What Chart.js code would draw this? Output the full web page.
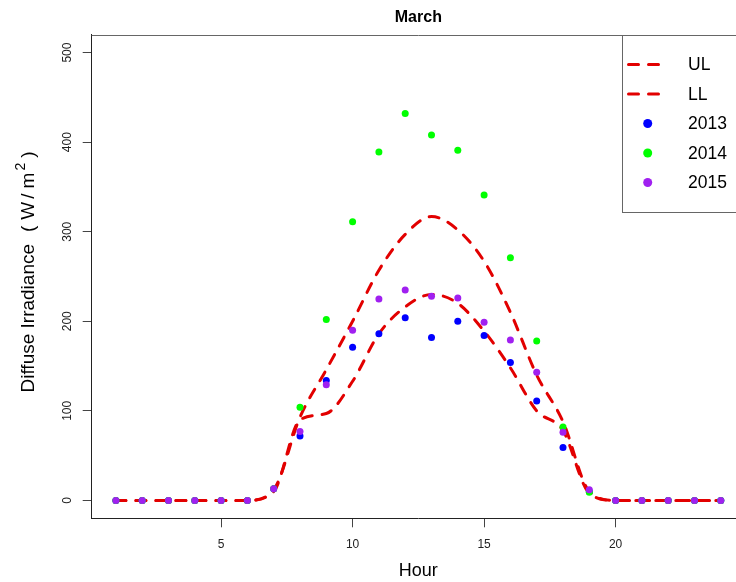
<!DOCTYPE html>
<html>
<head>
<meta charset="utf-8">
<title>March</title>
<script src="https://cdn.jsdelivr.net/npm/chart.js@4/dist/chart.umd.min.js"></script>
<style>
  html, body { margin: 0; padding: 0; background: #fff; overflow: hidden; }
  #wrap { width: 736px; height: 582px; overflow: hidden; }
</style>
</head>
<body>
<div id="wrap"><canvas id="marchChart" width="760" height="582"></canvas></div>
<script>
// hourly diffuse irradiance for March
const hours = [1, 2, 3, 4, 5, 6, 7, 8, 9, 10, 11, 12, 13, 14, 15, 16, 17, 18, 19, 20, 21, 22, 23, 24];
const upperLimit = [0, 0, 0, 0, 0, 0, 12, 93, 146, 200, 257, 297, 317, 302, 267, 210, 140, 88, 10, 0, 0, 0, 0, 0];
const lowerLimit = [0, 0, 0, 0, 0, 0, 10, 90, 97, 133, 186, 216, 230, 220, 189, 148, 100, 78, 8, 0, 0, 0, 0, 0];
const y2013 = [0, 0, 0, 0, 0, 0, 13, 72, 134, 171, 186, 204, 182, 200, 184, 154, 111, 59, 10, 0, 0, 0, 0, 0];
const y2014 = [0, 0, 0, 0, 0, 0, 13, 104, 202, 311, 389, 432, 408, 391, 341, 271, 178, 82, 9, 0, 0, 0, 0, 0];
const y2015 = [0, 0, 0, 0, 0, 0, 13, 77, 129, 190, 225, 235, 228, 226, 199, 179, 143, 76, 12, 0, 0, 0, 0, 0];
const xTicks = [5, 10, 15, 20];
const yTicks = [0, 100, 200, 300, 400, 500];

const RED = 'rgb(226,0,0)';
const FONT = '"Liberation Sans", Arial, sans-serif';

function pts(arr) {
  return hours.map((h, i) => ({ x: h, y: arr[i] }));
}

function limitLine(label, arr, order) {
  return {
    label: label,
    data: pts(arr),
    showLine: true,
    borderColor: RED,
    borderWidth: 3,
    borderDash: [10, 10],
    borderCapStyle: 'round',
    cubicInterpolationMode: 'monotone',
    pointRadius: 0,
    order: order
  };
}

function yearPoints(label, arr, color, order) {
  return {
    label: label,
    data: pts(arr),
    showLine: false,
    pointRadius: 3.5,
    pointBorderWidth: 0,
    pointBackgroundColor: color,
    borderColor: color,
    backgroundColor: color,
    order: order
  };
}

// y title with a raised exponent: Diffuse Irradiance (W/m^2)
function drawYTitle(ctx, cx, cy) {
  const big = '19px ' + FONT, small = '14px ' + FONT;
  const parts = [
    { t: 'Diffuse Irradiance', f: big, gap: 12, up: 0 },
    { t: '(', f: big, gap: 6, up: 0 },
    { t: 'W', f: big, gap: 3, up: 0 },
    { t: '/', f: big, gap: 5, up: 0 },
    { t: 'm', f: big, gap: 2, up: 0 },
    { t: '2', f: small, gap: 5, up: 9 },
    { t: ')', f: big, gap: 0, up: 0 }
  ];
  let total = 0;
  parts.forEach(p => { ctx.font = p.f; p.w = ctx.measureText(p.t).width; total += p.w + p.gap; });
  ctx.save();
  ctx.translate(cx, cy);
  ctx.rotate(-Math.PI / 2);
  ctx.fillStyle = '#000';
  ctx.textAlign = 'left';
  ctx.textBaseline = 'alphabetic';
  let x = -total / 2;
  parts.forEach(p => {
    ctx.font = p.f;
    ctx.fillText(p.t, x, 7 - p.up);
    x += p.w + p.gap;
  });
  ctx.restore();
}

// title, plot box, y title and the boxed legend
const decorations = {
  id: 'decorations',
  afterDraw(chart) {
    const ctx = chart.ctx;
    const a = chart.chartArea;
    ctx.save();

    ctx.strokeStyle = '#666';
    ctx.lineWidth = 1;
    ctx.beginPath();
    ctx.moveTo(a.left, Math.round(a.top) + 0.5);
    ctx.lineTo(a.right, Math.round(a.top) + 0.5);
    ctx.lineTo(a.right, a.bottom);
    ctx.stroke();

    ctx.fillStyle = '#000';
    ctx.font = 'bold 16px ' + FONT;
    ctx.textAlign = 'center';
    ctx.textBaseline = 'middle';
    ctx.fillText('March', (a.left + a.right) / 2, 18);

    drawYTitle(ctx, 27, 272);

    // legend
    const lx = 622.5, ly = Math.round(a.top) + 0.5, lw = 140, lh = 177;
    ctx.fillStyle = '#fff';
    ctx.fillRect(lx, ly, lw, lh);
    ctx.strokeStyle = '#666';
    ctx.lineWidth = 1;
    ctx.strokeRect(lx, ly, lw, lh);

    const entries = chart.data.datasets;
    ctx.font = '17.5px ' + FONT;
    ctx.textAlign = 'left';
    ctx.textBaseline = 'middle';
    entries.forEach((ds, i) => {
      const cy = 64.5 + i * 29.5;
      if (ds.showLine) {
        ctx.strokeStyle = ds.borderColor;
        ctx.lineWidth = ds.borderWidth;
        ctx.lineCap = 'round';
        ctx.setLineDash(ds.borderDash);
        ctx.beginPath();
        ctx.moveTo(628.5, cy);
        ctx.lineTo(658.5, cy);
        ctx.stroke();
        ctx.setLineDash([]);
      } else {
        ctx.fillStyle = ds.pointBackgroundColor;
        ctx.beginPath();
        ctx.arc(647.7, cy, 4.5, 0, Math.PI * 2);
        ctx.fill();
      }
      ctx.fillStyle = '#000';
      ctx.fillText(ds.label, 688, cy + 1);
    });
    ctx.restore();
  }
};

const CHART = document.getElementById('marchChart');
const marchChart = new Chart(CHART, {
  type: 'scatter',
  data: {
    datasets: [
      limitLine('UL', upperLimit, 4),
      limitLine('LL', lowerLimit, 3),
      yearPoints('2013', y2013, '#0000ff', 2),
      yearPoints('2014', y2014, '#00ff00', 1),
      yearPoints('2015', y2015, '#a020f0', 0)
    ]
  },
  options: {
    responsive: false,
    devicePixelRatio: 1,
    animation: false,
    layout: { padding: { left: 0, top: 34.7, right: 15, bottom: 0 } },
    plugins: {
      legend: { display: false },
      title: { display: false },
      tooltip: { enabled: false }
    },
    scales: {
      x: {
        type: 'linear',
        min: 0.08,
        max: 24.92,
        afterBuildTicks: s => { s.ticks = xTicks.map(v => ({ value: v })); },
        afterFit: s => { s.height = 63.7; },
        grid: { drawOnChartArea: false, drawTicks: true, tickLength: 9, color: '#444' },
        border: { color: '#222', width: 1 },
        ticks: { color: '#222', font: { family: FONT, size: 12 }, padding: 10, autoSkip: false, maxRotation: 0 },
        title: { display: true, text: 'Hour', color: '#000', font: { family: FONT, size: 18 }, padding: { top: 0, bottom: 0 } }
      },
      y: {
        type: 'linear',
        min: -20,
        max: 520,
        afterBuildTicks: s => { s.ticks = yTicks.map(v => ({ value: v })); },
        afterFit: s => { s.width = 91.7; },
        grid: { drawOnChartArea: false, drawTicks: true, tickLength: 9, color: '#444' },
        border: { color: '#222', width: 1 },
        ticks: { color: '#222', font: { family: FONT, size: 12 }, padding: 5, autoSkip: false,
                 minRotation: 90, maxRotation: 90, crossAlign: 'center' },
        title: { display: false }
      }
    }
  },
  plugins: [decorations]
});
</script>
</body>
</html>
